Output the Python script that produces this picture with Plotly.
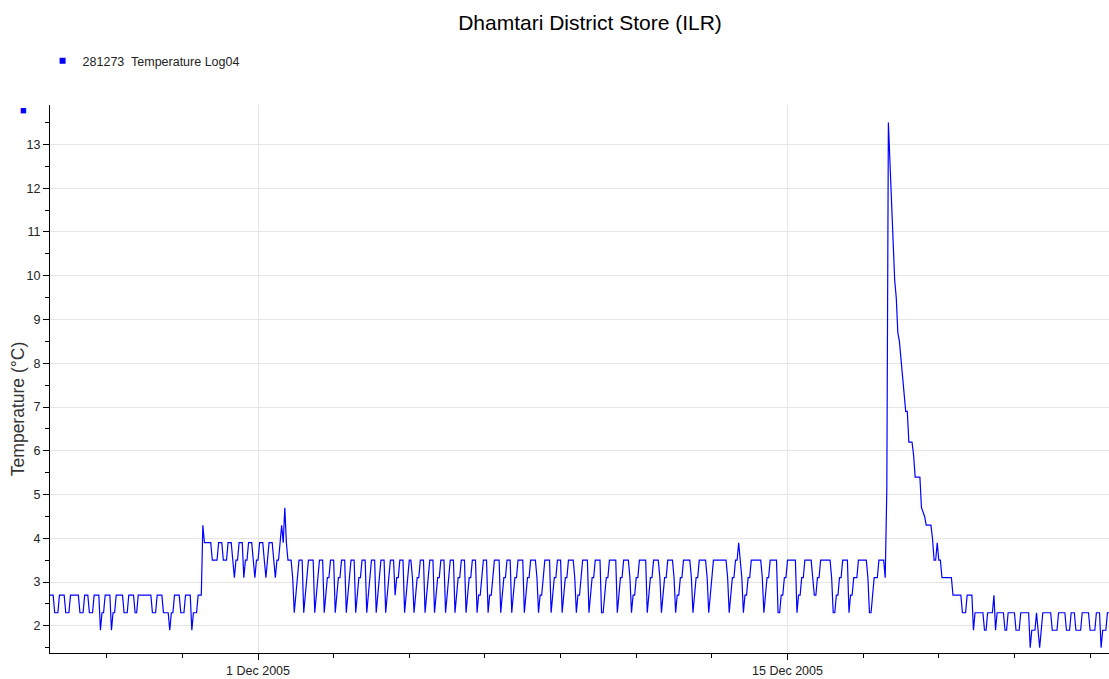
import pandas as pd
import plotly.graph_objects as go

start_time = "2005-11-25 12:00"

# hourly readings (deg C), one row per day, noon to noon
week1 = [
    2.7, 2.7, 2.7, 2.3, 2.3, 2.3, 2.7, 2.7, 2.7, 2.7, 2.3, 2.3, 2.3, 2.7, 2.7, 2.7, 2.7, 2.7, 2.7, 2.3, 2.3, 2.3, 2.7, 2.7,
    2.7, 2.3, 2.3, 2.3, 2.7, 2.7, 2.7, 2.7, 1.9, 2.3, 2.3, 2.7, 2.7, 2.7, 2.7, 1.9, 2.3, 2.3, 2.7, 2.7, 2.7, 2.7, 2.7, 2.3,
    2.3, 2.3, 2.7, 2.7, 2.7, 2.7, 2.3, 2.3, 2.7, 2.7, 2.7, 2.7, 2.7, 2.7, 2.7, 2.7, 2.7, 2.3, 2.3, 2.3, 2.7, 2.7, 2.7, 2.7,
    2.3, 2.3, 2.3, 2.3, 1.9, 2.3, 2.3, 2.7, 2.7, 2.7, 2.7, 2.3, 2.3, 2.3, 2.7, 2.7, 2.7, 2.7, 1.9, 2.3, 2.3, 2.3, 2.7, 2.7,
    2.7, 4.3, 3.9, 3.9, 3.9, 3.9, 3.9, 3.5, 3.5, 3.5, 3.5, 3.9, 3.9, 3.9, 3.5, 3.5, 3.5, 3.9, 3.9, 3.9, 3.5, 3.1, 3.5, 3.5,
    3.9, 3.9, 3.9, 3.1, 3.5, 3.5, 3.9, 3.9, 3.9, 3.5, 3.1, 3.5, 3.5, 3.9, 3.9, 3.9, 3.5, 3.1, 3.5, 3.9, 3.9, 3.9, 3.5, 3.1,
    3.5, 3.5, 3.9, 4.3, 3.9, 4.7, 3.9, 3.5, 3.5, 3.5, 3.1, 2.3, 2.7, 3.1, 3.5, 3.5, 3.5, 2.3, 2.7, 3.1, 3.5, 3.5, 3.5, 3.5,
]
week2 = [
    2.3, 2.7, 3.1, 3.5, 3.5, 3.5, 2.3, 2.7, 3.1, 3.1, 3.5, 3.5, 3.5, 2.3, 2.7, 3.1, 3.1, 3.5, 3.5, 3.5, 2.3, 2.7, 3.1, 3.5,
    3.5, 3.5, 2.3, 2.7, 3.1, 3.1, 3.5, 3.5, 3.5, 2.3, 2.7, 3.1, 3.5, 3.5, 3.5, 2.3, 2.7, 3.1, 3.5, 3.5, 3.5, 2.3, 2.7, 3.1,
    3.5, 3.5, 3.5, 2.7, 3.1, 3.1, 3.5, 3.5, 3.5, 2.3, 2.7, 3.1, 3.5, 3.5, 3.1, 2.3, 2.7, 3.1, 3.1, 3.5, 3.5, 3.5, 2.3, 2.7,
    3.1, 3.5, 3.5, 3.5, 2.3, 2.7, 3.1, 3.1, 3.5, 3.5, 3.5, 2.3, 2.7, 3.1, 3.5, 3.5, 3.5, 2.3, 2.7, 3.1, 3.1, 3.5, 3.5, 3.5,
    2.3, 2.7, 3.1, 3.1, 3.5, 3.5, 3.5, 2.3, 2.7, 2.7, 3.1, 3.5, 3.5, 3.5, 2.3, 2.7, 2.7, 3.1, 3.5, 3.5, 3.5, 3.5, 2.3, 2.7,
    3.1, 3.1, 3.5, 3.5, 3.5, 2.3, 2.7, 3.1, 3.1, 3.5, 3.5, 3.5, 3.5, 2.3, 2.7, 3.1, 3.1, 3.5, 3.5, 3.5, 3.5, 3.1, 2.3, 2.7,
    2.7, 3.1, 3.5, 3.5, 3.5, 3.5, 2.3, 2.7, 3.1, 3.1, 3.5, 3.5, 3.5, 2.3, 2.7, 3.1, 3.1, 3.5, 3.5, 3.5, 3.5, 3.1, 2.3, 2.7,
]
week3 = [
    2.7, 3.1, 3.5, 3.5, 3.5, 3.5, 2.3, 2.7, 3.1, 3.1, 3.5, 3.5, 3.5, 3.5, 2.3, 2.3, 2.7, 3.1, 3.1, 3.5, 3.5, 3.5, 3.5, 3.5,
    2.3, 2.7, 3.1, 3.1, 3.5, 3.5, 3.5, 3.5, 3.1, 2.3, 2.7, 2.7, 3.1, 3.1, 3.5, 3.5, 3.5, 3.5, 3.5, 2.3, 2.7, 3.1, 3.1, 3.5,
    3.5, 3.5, 3.5, 3.1, 2.3, 2.7, 3.1, 3.1, 3.5, 3.5, 3.5, 3.5, 3.1, 2.3, 2.7, 2.7, 3.1, 3.1, 3.5, 3.5, 3.5, 3.5, 3.5, 3.1,
    2.3, 2.7, 3.1, 3.1, 3.5, 3.5, 3.5, 3.5, 3.5, 3.1, 2.3, 2.7, 3.1, 3.5, 3.5, 3.5, 3.5, 3.5, 3.5, 3.5, 3.5, 3.5, 3.1, 2.3,
    2.7, 3.1, 3.1, 3.5, 3.5, 3.9, 3.5, 3.1, 2.3, 2.7, 2.7, 3.1, 3.1, 3.5, 3.5, 3.5, 3.5, 3.5, 3.5, 3.5, 3.1, 2.3, 2.7, 3.1,
    3.1, 3.5, 3.5, 3.5, 3.5, 3.5, 2.3, 2.3, 2.7, 2.7, 3.1, 3.1, 3.5, 3.5, 3.5, 3.5, 3.5, 3.5, 2.3, 2.7, 2.7, 3.1, 3.1, 3.5,
    3.5, 3.5, 3.5, 3.5, 3.1, 2.7, 2.7, 3.1, 3.1, 3.5, 3.5, 3.5, 3.5, 3.5, 3.5, 3.5, 3.1, 2.3, 2.3, 2.7, 2.7, 3.1, 3.1, 3.5,
]
week4 = [
    3.5, 3.5, 3.5, 2.3, 2.7, 2.7, 3.1, 3.1, 3.1, 3.5, 3.5, 3.5, 3.5, 3.5, 3.5, 3.1, 2.3, 2.3, 2.7, 3.1, 3.1, 3.1, 3.5, 3.5,
    3.5, 3.5, 3.1, 5.1, 13.5, 12.5, 11.5, 10.7, 9.9, 9.5, 8.7, 8.5, 8.1, 7.7, 7.3, 6.9, 6.9, 6.2, 6.2, 6.2, 5.9, 5.4, 5.4, 5.4,
    5.4, 4.7, 4.6, 4.5, 4.3, 4.3, 4.3, 4.3, 4.0, 3.5, 3.5, 3.9, 3.5, 3.5, 3.1, 3.1, 3.1, 3.1, 3.1, 3.1, 3.1, 2.7, 2.7, 2.7,
    2.7, 2.7, 2.7, 2.3, 2.3, 2.3, 2.7, 2.7, 2.7, 2.7, 1.9, 2.3, 2.3, 2.3, 2.3, 2.3, 2.3, 1.9, 1.9, 2.3, 2.3, 2.3, 2.3, 2.7,
    1.9, 2.3, 2.3, 2.3, 2.3, 2.3, 1.9, 1.9, 2.3, 2.3, 2.3, 2.3, 2.3, 1.9, 1.9, 1.9, 2.3, 2.3, 2.3, 2.3, 2.3, 2.3, 1.5, 1.9,
    1.9, 1.9, 2.3, 1.9, 1.5, 1.9, 2.3, 2.3, 2.3, 2.3, 2.3, 2.3, 1.9, 1.9, 1.9, 1.9, 2.3, 2.3, 2.3, 2.3, 2.3, 1.9, 1.9, 1.9,
    2.3, 2.3, 2.3, 1.9, 1.9, 1.9, 1.9, 2.3, 2.3, 2.3, 2.3, 2.3, 1.9, 1.9, 1.9, 1.9, 2.3, 2.3, 2.3, 1.5, 1.9, 1.9, 1.9, 2.3,
    2.3,
]

temps = week1 + week2 + week3 + week4
times = pd.date_range(start_time, periods=len(temps), freq="h")

font = "Arial, Liberation Sans, sans-serif"

fig = go.Figure()
fig.add_trace(go.Scatter(x=times, y=temps, mode="lines",
                         line=dict(color="#0000ff", width=1.2),
                         showlegend=False))
# legend entry shown with a square swatch, like the logger software
fig.add_trace(go.Scatter(x=[None], y=[None], mode="markers",
                         marker=dict(symbol="square", size=6, color="#0000ff"),
                         name="281273  Temperature Log04"))

fig.update_layout(
    width=1109, height=679,
    template="none",
    paper_bgcolor="white", plot_bgcolor="white",
    margin=dict(l=50, r=0, t=105, b=26),
    font=dict(family=font, color="#222"),
    title=dict(text="Dhamtari District Store (ILR)", x=0.532, xref="container",
               xanchor="center", y=0.967, yanchor="middle",
               font=dict(size=21, color="black")),
    legend=dict(x=-0.007, y=1.08, xanchor="left", yanchor="middle",
                font=dict(size=12.5, color="#222"), bgcolor="rgba(0,0,0,0)",
                itemwidth=30),
    annotations=[
        dict(text="■", x=-0.03, y=1.006, xref="paper", yref="paper",
             showarrow=False, font=dict(size=11, color="#0000ff")),
        # y-axis title sits a little below the middle of the axis
        dict(text="Temperature (°C)", x=-0.0302, y=0.445, xref="paper", yref="paper",
             textangle=-90, xanchor="center", yanchor="middle", showarrow=False,
             font=dict(size=17.5, color="#333")),
    ],
)

fig.update_xaxes(
    type="date", range=["2005-11-25 12:00", "2005-12-23 12:00"],
    tick0="2005-12-01", dtick=14 * 86400000, tickformat="%-d %b %Y",
    ticks="outside", ticklen=6, tickcolor="black",
    showline=True, linecolor="black", linewidth=1,
    showgrid=True, gridcolor="#e6e6e6", gridwidth=1,
    zeroline=False, tickfont=dict(size=12.5, color="#222"),
    minor=dict(tick0="2005-11-27", dtick=2 * 86400000, ticks="outside",
               ticklen=4, tickcolor="black", showgrid=False),
    automargin=False,
)
fig.update_yaxes(
    range=[1.38, 13.9], tick0=0, dtick=1,
    ticks="outside", ticklen=6, tickcolor="black",
    showline=True, linecolor="black", linewidth=1,
    showgrid=True, gridcolor="#e6e6e6", gridwidth=1,
    zeroline=False, tickfont=dict(size=12.5, color="#222"),
    minor=dict(dtick=0.5, ticks="outside", ticklen=4, tickcolor="black",
               showgrid=False),
    automargin=False,
)

fig.write_html("out.html", config={"displayModeBar": False},
               post_script="document.body.style.margin = '0';")
